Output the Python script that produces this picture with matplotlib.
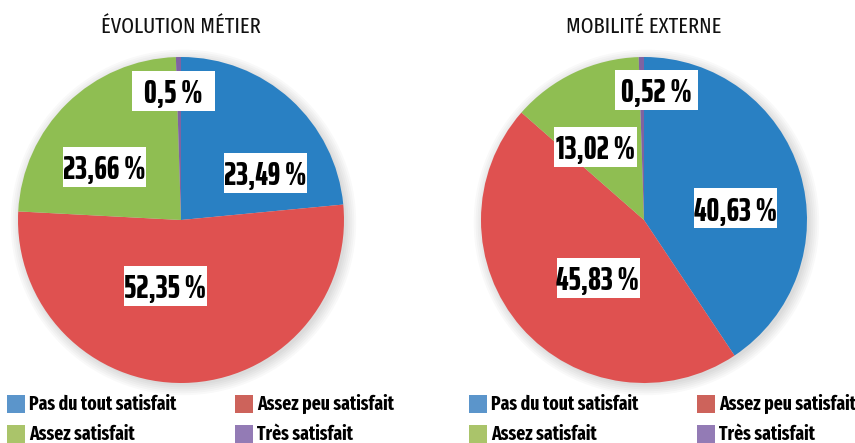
import matplotlib.pyplot as plt
from matplotlib.patches import Rectangle, Circle

plt.rcParams['font.family'] = ['Fira Sans Extra Condensed', 'Roboto Condensed', 'DejaVu Sans']
LABEL_FONT = ['Saira ExtraCondensed', 'Fira Sans Extra Condensed', 'Roboto Condensed', 'DejaVu Sans']

# Data
categories = ["Pas du tout satisfait", "Assez peu satisfait", "Assez satisfait", "Très satisfait"]
evolution_metier = [23.49, 52.35, 23.66, 0.5]
mobilite_externe = [40.63, 45.83, 13.02, 0.52]
evolution_labels = ["23,49 %", "52,35 %", "23,66 %", "0,5 %"]
mobilite_labels = ["40,63 %", "45,83 %", "13,02 %", "0,52 %"]

pie_colors = ["#2980c3", "#df5150", "#8fbe52", "#7f63a2"]
legend_colors = ["#5b95cb", "#cd635b", "#aac46a", "#937bb5"]

W, H = 855, 443
R = 163  # pie radius in pixels

# label box centres, in pixels relative to the pie centre
evolution_pos = [(84.5, -47), (-15.5, 65.5), (-76.5, -53), (-7.5, -129)]
mobilite_pos = [(91.5, -11.5), (-46, 57.5), (-48.5, -73), (12, -130)]

fig = plt.figure(figsize=(W / 100, H / 100), dpi=100)


def draw_pie(cx, cy, values, labels, pos, title, legend_x):
    ax = fig.add_axes([(cx - 1.1 * R) / W, (H - cy - 1.1 * R) / H, 2.2 * R / W, 2.2 * R / H])
    # soft shadow
    for k in range(6):
        ax.add_patch(Circle((0.015, -0.015), 1.0 + 0.012 * k, color="black",
                            alpha=0.025, lw=0, zorder=0))
    ax.pie(values, colors=pie_colors, startangle=90, counterclock=False,
           wedgeprops=dict(linewidth=0, zorder=1))
    ax.set_xlim(-1.1, 1.1)
    ax.set_ylim(-1.1, 1.1)
    bw, bh = 83 / R, 40 / R
    for txt, (px, py) in zip(labels, pos):
        x, y = px / R, -py / R
        ax.add_patch(Rectangle((x - bw / 2, y - bh / 2), bw, bh, facecolor="white",
                               edgecolor="none", zorder=3))
        ax.text(x, y, txt, ha="center", va="center_baseline", fontsize=23,
                fontweight=800, color="black", zorder=4, family=LABEL_FONT)
    fig.text(cx / W, 1 - 27 / H, title, ha="center", va="center", fontsize=16,
             fontweight="normal", color="#111111")

    # legend (row-major: 2 columns)
    col_x = [legend_x, legend_x + 228]
    row_y = [395, 425]
    for i, (name, c) in enumerate(zip(categories, legend_colors)):
        x0 = col_x[i % 2]
        y0 = row_y[i // 2]
        fig.add_artist(Rectangle((x0 / W, 1 - (y0 + 18) / H), 18 / W, 18 / H,
                                 facecolor=c, edgecolor="none",
                                 transform=fig.transFigure))
        fig.text((x0 + 22) / W, 1 - (y0 + 9) / H, name, ha="left", va="center",
                 fontsize=13.8, fontweight="bold", color="black")


draw_pie(181, 220, evolution_metier, evolution_labels, evolution_pos,
         "ÉVOLUTION MÉTIER", 7)
draw_pie(644, 220, mobilite_externe, mobilite_labels, mobilite_pos,
         "MOBILITÉ EXTERNE", 469)

fig.savefig("out.png", dpi=100)
